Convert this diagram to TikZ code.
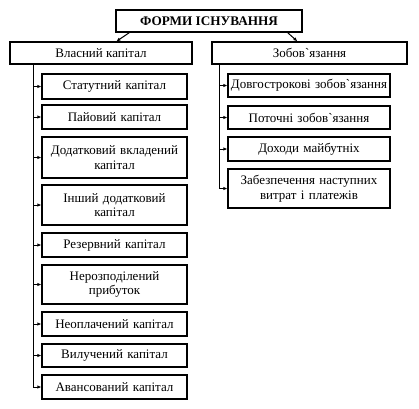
\documentclass[tikz,border=0pt]{standalone}
\usepackage{fontspec}
\setmainfont{Liberation Serif}[Ligatures=TeXOff]
\usetikzlibrary{arrows.meta}
\begin{document}
\begin{tikzpicture}[x=1pt,y=-1pt,
  box/.style={draw,line width=1.3pt,inner sep=0pt,align=center,font=\fontsize{13}{14.5}\selectfont},
  lbox/.style={box,minimum width=145pt,text width=142pt},
  rbox/.style={box,minimum width=162pt,text width=160pt},
  conn/.style={line width=1pt},
  arr/.style={conn,-{Latex[length=4pt,width=3.5pt]}}]
\useasboundingbox (0,0) rectangle (419,408);
\node[box,minimum width=186pt,minimum height=22pt,font=\fontsize{13.2}{14.5}\selectfont\bfseries] (T) at (209,21) {ФОРМИ ІСНУВАННЯ};
\node[box,minimum width=182pt,minimum height=22pt] (L) at (101,53) {Власний капітал};
\node[box,minimum width=195pt,minimum height=22pt] (R) at (309.5,53) {Зобов`язання};
\draw[arr] ([xshift=14pt]T.south west) -- ([xshift=107pt]L.north west);
\draw[arr] ([xshift=-15pt]T.south east) -- ([xshift=86pt]R.north west);
\node[lbox,minimum height=25pt] (c1) at (114.5,86.5) {Статутний капітал};
\node[lbox,minimum height=24pt] (c2) at (114.5,117) {Пайовий капітал};
\node[lbox,minimum height=41pt] (c3) at (114.5,157.5) {Додатковий вкладений\\капітал};
\node[lbox,minimum height=40pt] (c4) at (114.5,205) {Інший додатковий\\капітал};
\node[lbox,minimum height=24pt] (c5) at (114.5,245) {Резервний капітал};
\node[lbox,minimum height=39pt] (c6) at (114.5,284.5) {Нерозподілений\\прибуток};
\node[lbox,minimum height=24pt] (c7) at (114.5,324) {Неоплачений капітал};
\node[lbox,minimum height=23pt] (c8) at (114.5,355.5) {Вилучений капітал};
\node[lbox,minimum height=24pt] (c9) at (114.5,387) {Авансований капітал};
\node[rbox,minimum height=23pt] (d1) at (309,85.5) {Довгострокові зобов`язання};
\node[rbox,minimum height=23pt] (d2) at (309,117.5) {Поточні зобов`язання};
\node[rbox,minimum height=24pt] (d3) at (309,149) {Доходи майбутніх};
\node[rbox,minimum height=39pt] (d4) at (309,188.5) {Забезпечення наступних\\витрат і платежів};
\coordinate (lb) at ([xshift=24pt]L.south west);
\coordinate (rb) at ([xshift=8pt]R.south west);
\draw[conn] (lb) -- (lb |- c9.west);
\draw[conn] (rb) -- (rb |- d4.west);
\foreach \n in {c1,c2,c3,c4,c5,c6,c7,c8,c9}{\draw[arr] (lb |- \n.west) -- (\n.west);}
\foreach \n in {d1,d2,d3,d4}{\draw[arr] (rb |- \n.west) -- (\n.west);}
\end{tikzpicture}
\end{document}
